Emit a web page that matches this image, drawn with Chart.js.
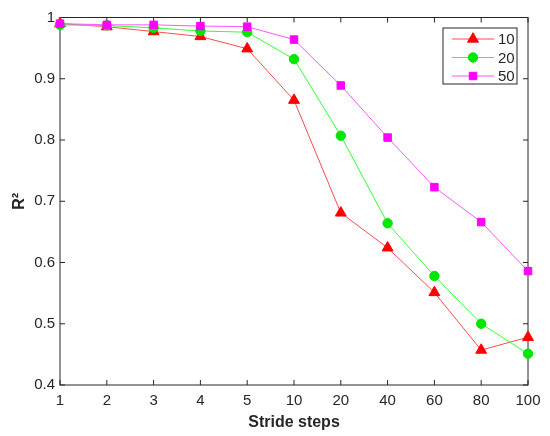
<!DOCTYPE html>
<html>
<head>
<meta charset="utf-8">
<script src="https://cdn.jsdelivr.net/npm/chart.js@4/dist/chart.umd.min.js"></script>
<style>
  html, body { margin: 0; padding: 0; background: #fff; }
  #wrap { width: 550px; height: 436px; }
</style>
</head>
<body>
<div id="wrap"><canvas id="lineChart" width="550" height="436"></canvas></div>
<script>
// stride steps (equally spaced categories)
const strideSteps = ['1', '2', '3', '4', '5', '10', '20', '40', '60', '80', '100'];
const r2_10 = [0.990, 0.985, 0.977, 0.969, 0.949, 0.865, 0.681, 0.624, 0.551, 0.457, 0.478];
const r2_20 = [0.988, 0.987, 0.983, 0.978, 0.976, 0.932, 0.807, 0.664, 0.578, 0.500, 0.451];
const r2_50 = [0.990, 0.988, 0.988, 0.986, 0.985, 0.964, 0.889, 0.804, 0.723, 0.666, 0.586];
const yTicks = [0.4, 0.5, 0.6, 0.7, 0.8, 0.9, 1];

const axisColor = '#262626';
const font = 'Liberation Sans, Arial, sans-serif';

function mark(p, ctx, style, x, y) {
    if (Chart.helpers && Chart.helpers.drawPoint) {
        Chart.helpers.drawPoint(ctx, { pointStyle: style, radius: p.radius, rotation: 0, borderWidth: 1 }, x, y);
    }
}

// MATLAB style box with inward ticks
const boxPlugin = {
    id: 'boxAxes',
    beforeDatasetsDraw(chart) {
        const ctx = chart.ctx;
        const a = chart.chartArea;
        const xs = chart.scales.x, ys = chart.scales.y;
        const t = 5;
        ctx.save();
        ctx.strokeStyle = axisColor;
        ctx.lineWidth = 1;
        ctx.strokeRect(a.left, a.top, a.right - a.left, a.bottom - a.top);
        ctx.beginPath();
        xs.ticks.forEach((tk, i) => {
            const px = xs.getPixelForTick(i);
            ctx.moveTo(px, a.bottom); ctx.lineTo(px, a.bottom - t);
            ctx.moveTo(px, a.top); ctx.lineTo(px, a.top + t);
        });
        ys.ticks.forEach(tk => {
            const py = ys.getPixelForValue(tk.value);
            ctx.moveTo(a.left, py); ctx.lineTo(a.left + t, py);
            ctx.moveTo(a.right, py); ctx.lineTo(a.right - t, py);
        });
        ctx.stroke();
        ctx.restore();
    },
    afterDraw(chart) {
        // legend box in the top right corner
        const ctx = chart.ctx;
        const a = chart.chartArea;
        const bx = a.right - 85, by = a.top + 10.5, bw = 74, bh = 56;
        ctx.save();
        ctx.fillStyle = '#fff';
        ctx.fillRect(bx, by, bw, bh);
        ctx.strokeStyle = axisColor;
        ctx.lineWidth = 1;
        ctx.strokeRect(bx, by, bw, bh);
        const rows = [by + 11, by + 29.5, by + 48];
        chart.data.datasets.forEach((ds, i) => {
            const y = rows[i];
            ctx.strokeStyle = ds.borderColor;
            ctx.lineWidth = ds.borderWidth;
            ctx.beginPath();
            ctx.moveTo(bx + 9, y); ctx.lineTo(bx + 51, y);
            ctx.stroke();
            ctx.fillStyle = ds.pointBackgroundColor;
            ctx.strokeStyle = ds.pointBorderColor;
            mark({ radius: ds.pointRadius }, ctx, ds.pointStyle, bx + 30, y);
            ctx.fillStyle = axisColor;
            ctx.font = '15px ' + font;
            ctx.textBaseline = 'middle';
            ctx.fillText(ds.label, bx + 55, y + 1);
        });
        ctx.restore();
    }
};

const ctx = document.getElementById('lineChart').getContext('2d');
const myChart = new Chart(ctx, {
    type: 'line',
    data: {
        labels: strideSteps,
        datasets: [{
            label: '10',
            data: r2_10,
            borderColor: '#ff4a4a',
            borderWidth: 1,
            pointStyle: 'triangle',
            pointRadius: 6.3,
            pointBackgroundColor: '#ff0000',
            pointBorderColor: '#ff0000',
            order: 3
        }, {
            label: '20',
            data: r2_20,
            borderColor: '#33ff33',
            borderWidth: 1,
            pointStyle: 'circle',
            pointRadius: 4.7,
            pointBackgroundColor: '#00e600',
            pointBorderColor: '#00e600',
            order: 2
        }, {
            label: '50',
            data: r2_50,
            borderColor: '#ff55ff',
            borderWidth: 1,
            pointStyle: 'rect',
            pointRadius: 5.3,
            pointBackgroundColor: '#ff00ff',
            pointBorderColor: '#ff00ff',
            order: 1
        }]
    },
    options: {
        responsive: false,
        animation: false,
        devicePixelRatio: 1,
        clip: false,
        layout: { padding: { top: 17.5, right: 22, left: 0, bottom: 0 } },
        plugins: {
            legend: { display: false },
            tooltip: { enabled: false }
        },
        elements: { line: { tension: 0 } },
        scales: {
            x: {
                offset: false,
                border: { display: false },
                grid: { display: false, drawTicks: false },
                ticks: {
                    color: axisColor,
                    font: { family: font, size: 15 },
                    padding: 7,
                    maxRotation: 0,
                    autoSkip: false
                },
                title: {
                    display: true,
                    text: 'Stride steps',
                    color: axisColor,
                    font: { family: font, size: 16, weight: 'bold' },
                    padding: { top: 0, bottom: 4 }
                },
                afterFit(s) { s.height = 51; }
            },
            y: {
                min: 0.4,
                max: 1,
                border: { display: false },
                grid: { display: false, drawTicks: false },
                afterBuildTicks(s) { s.ticks = yTicks.map(v => ({ value: v })); },
                ticks: {
                    color: axisColor,
                    font: { family: font, size: 15 },
                    padding: 5,
                    callback: v => String(+v.toFixed(1))
                },
                title: {
                    display: true,
                    text: 'R²',
                    color: axisColor,
                    font: { family: font, size: 16, weight: 'bold' },
                    padding: { top: 10, bottom: 0 }
                },
                afterFit(s) { s.width = 60; }
            }
        }
    },
    plugins: [boxPlugin]
});
</script>
</body>
</html>
